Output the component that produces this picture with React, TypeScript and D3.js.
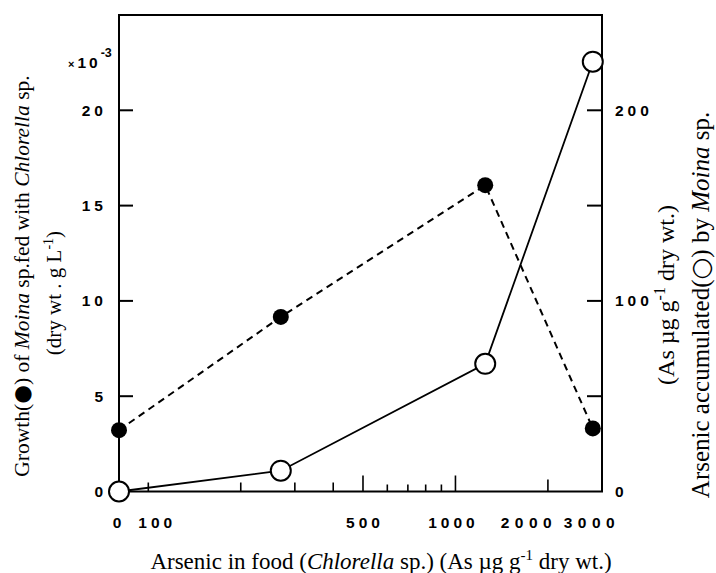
import React from "react";
import * as d3 from "d3";

// ---- data ----
const doses = [0, 270, 1250, 2800]; // As in food, µg/g
const growth = [3.22, 9.16, 16.07, 3.31]; // x10^-3 dry wt g/L (filled)
const accumulated = [0, 10.9, 67.0, 225.5]; // As µg/g (open)
const leftTicks = [0, 5, 10, 15, 20];
const rightTicks = [0, 50, 100, 150, 200];
const rightTickLabels = [0, 100, 200];
const xMinorTicks = [100, 200, 300, 400, 500, 600, 700, 800, 900, 1000, 2000];
const xTickLabels = [0, 100, 500, 1000, 2000, 3000];

const W = 716;
const H = 573;
const L = 119;
const R = 602;
const T = 15;
const B = 491.5;

export default function App() {
  const xLog = d3.scaleLog().domain([100, 3000]).range([148.3, R]);
  const x = (v: number) => (v === 0 ? L : xLog(v));
  const yL = d3.scaleLinear().domain([0, 25]).range([B, T]);
  const yR = d3.scaleLinear().domain([0, 250]).range([B, T]);

  const growthPts: [number, number][] = doses.map((d, i) => [x(d), yL(growth[i])]);
  const accPts: [number, number][] = doses.map((d, i) => [x(d), yR(accumulated[i])]);
  const line = d3.line();

  const tickLen = (v: number) =>
    v === 500 || v === 1000 ? 16 : v === 2000 ? 12 : v <= 400 ? 9 : 7;
  const labelNudge: Record<number, number> = { 0: 0, 100: 9, 500: 2, 1000: -2, 2000: -19, 3000: -10 };
  const labelSpacing: Record<number, number> = { 2000: 5.5, 3000: 5.5 };

  const serif = "'Liberation Serif', 'Times New Roman', serif";
  const sans = "'Liberation Sans', Arial, sans-serif";
  const tickStyle = { fontFamily: sans, fontSize: 15.5, fontWeight: 700, letterSpacing: 4 } as const;

  return (
    <div style={{ position: "absolute", left: 0, top: 0 }}>
      <svg width={W} height={H} viewBox={`0 0 ${W} ${H}`} style={{ display: "block", background: "#fff" }}>
        {/* frame */}
        <rect x={L} y={T} width={R - L} height={B - T} fill="none" stroke="#000" strokeWidth={2} />

        {/* left ticks */}
        {leftTicks.filter((v) => v > 0).map((v) => (
          <line key={"lt" + v} x1={L} x2={L + 14} y1={yL(v)} y2={yL(v)} stroke="#000" strokeWidth={2} />
        ))}
        {leftTicks.map((v) => (
          <text key={"ll" + v} x={107} y={yL(v)} dy="0.36em" textAnchor="end" {...tickStyle}>
            {v}
          </text>
        ))}
        <text x={68} y={68} fontFamily={sans} fontWeight={700}>
          <tspan fontSize={11}>×</tspan>
          <tspan dx={3} fontSize={15.5} letterSpacing={3}>10</tspan>
          <tspan dy={-11} fontSize={12.5}>-3</tspan>
        </text>

        {/* right ticks */}
        {rightTicks.filter((v) => v > 0).map((v) => (
          <line key={"rt" + v} x1={R - 15} x2={R} y1={yR(v)} y2={yR(v)} stroke="#000" strokeWidth={2} />
        ))}
        {rightTickLabels.map((v) => (
          <text key={"rl" + v} x={615} y={yR(v)} dy="0.36em" textAnchor="start" {...tickStyle}>
            {v}
          </text>
        ))}

        {/* bottom ticks */}
        {xMinorTicks.map((v) => (
          <line key={"bt" + v} x1={x(v)} x2={x(v)} y1={B} y2={B - tickLen(v)} stroke="#000" strokeWidth={1.6} />
        ))}
        {xTickLabels.map((v) => (
          <text
            key={"bl" + v}
            x={x(v) + (labelNudge[v] || 0)}
            y={528}
            textAnchor="middle"
            {...tickStyle}
            letterSpacing={labelSpacing[v] || 4}
          >
            {v}
          </text>
        ))}

        {/* series lines */}
        <path d={line(growthPts) || ""} fill="none" stroke="#000" strokeWidth={2} strokeDasharray="7,5" />
        <path d={line(accPts) || ""} fill="none" stroke="#000" strokeWidth={1.8} />

        {/* markers */}
        {accPts.map((p, i) => (
          <circle key={"o" + i} cx={p[0]} cy={p[1]} r={10} fill="#fff" stroke="#000" strokeWidth={2} />
        ))}
        {growthPts.map((p, i) => (
          <circle key={"f" + i} cx={p[0]} cy={p[1]} r={8} fill="#000" />
        ))}

        {/* x axis title */}
        <text x={381} y={569} textAnchor="middle" fontFamily={serif} fontSize={23}>
          Arsenic in food (<tspan fontStyle="italic">Chlorella</tspan> sp.) (As µg g
          <tspan dy={-9} fontSize={15}>-1</tspan>
          <tspan dy={9}> dry wt.)</tspan>
        </text>

        {/* left axis title */}
        <text transform="translate(29,276) rotate(-90)" textAnchor="middle" fontFamily={serif} fontSize={21.5}>
          Growth(<tspan fontFamily="'DejaVu Sans', sans-serif">●</tspan>) of <tspan fontStyle="italic">Moina</tspan> sp.fed with{" "}
          <tspan fontStyle="italic">Chlorella</tspan> sp.
        </text>
        <text transform="translate(61,293) rotate(-90)" textAnchor="middle" fontFamily={serif} fontSize={21}>
          (dry wt . g L<tspan dy={-8} fontSize={14}>-1</tspan>
          <tspan dy={8}>)</tspan>
        </text>

        {/* right axis titles */}
        <text transform="translate(709,305) rotate(-90)" textAnchor="middle" fontFamily={serif} fontSize={25}>
          Arsenic accumulated(<tspan fontFamily="'DejaVu Sans', sans-serif">○</tspan>) by{" "}
          <tspan fontStyle="italic">Moina</tspan> sp.
        </text>
        <text transform="translate(674,295) rotate(-90)" textAnchor="middle" fontFamily={serif} fontSize={24}>
          (As µg g<tspan dy={-9} fontSize={16}>-1</tspan>
          <tspan dy={9}> dry wt.)</tspan>
        </text>
      </svg>
    </div>
  );
}
